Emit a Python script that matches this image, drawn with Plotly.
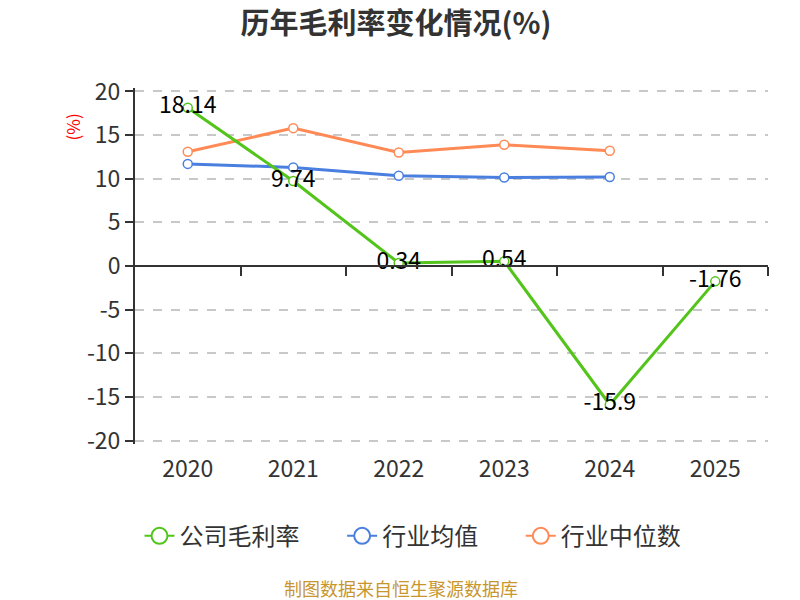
import plotly.graph_objects as go

years = ["2020", "2021", "2022", "2023", "2024", "2025"]
company = [18.14, 9.74, 0.34, 0.54, -15.9, -1.76]
company_labels = ["18.14", "9.74", "0.34", "0.54", "-15.9", "-1.76"]
industry_avg = [11.7, 11.3, 10.35, 10.15, 10.2]
industry_median = [13.1, 15.8, 13.0, 13.9, 13.2]
y_ticks = [-20, -15, -10, -5, 0, 5, 10, 15, 20]
y_ticktext = ["-20", "-15", "-10", "-5", "0", "5", "10", "15", "20"]

GREEN = "#52c41a"
BLUE = "#4a7fe0"
ORANGE = "#ff8a55"
FONT = "Noto Sans CJK SC"

xs = list(range(len(years)))
y_min, y_max = -20.4, 20.4
xr = [-0.5, len(years) - 0.5]

L, R = 127, 40
T = 79.5
B = 163.5
PW = 800 - L - R

fig = go.Figure()

series = [
    ("行业均值", industry_avg, BLUE),
    ("行业中位数", industry_median, ORANGE),
]
for name, vals, col in series:
    fig.add_trace(go.Scatter(
        x=xs[:len(vals)], y=vals, name=name, mode="lines+markers", showlegend=False,
        line=dict(color=col, width=3),
        marker=dict(symbol="circle", size=9, color="white", line=dict(color=col, width=1.5)),
    ))
fig.add_trace(go.Scatter(
    x=xs, y=company, name="公司毛利率", mode="lines+markers+text", showlegend=False,
    text=company_labels, textposition="middle center",
    textfont=dict(size=23, color="#000000", family=FONT),
    line=dict(color=GREEN, width=3),
    marker=dict(symbol="circle", size=9, color="white", line=dict(color=GREEN, width=1.5)),
))

# legend entries
PAD = "\u00a0" * 7
legend_items = [("公司毛利率" + PAD, GREEN), ("行业均值" + PAD, BLUE), ("行业中位数", ORANGE)]
for rank, (name, col) in enumerate(legend_items):
    fig.add_trace(go.Scatter(
        x=[None], y=[None], name=name, mode="lines+markers", legendrank=rank + 1,
        line=dict(color=col, width=2),
        marker=dict(symbol="circle", size=16, color="white", line=dict(color=col, width=2)),
    ))

# invisible trace to anchor the zero-line axis
fig.add_trace(go.Scatter(x=[xs[0]], y=[0], xaxis="x2", yaxis="y", mode="markers",
                         marker=dict(opacity=0), showlegend=False, hoverinfo="skip"))

PH = 600 - T - B


def py(f):
    return (T + PH - f) / PH


def px(f):
    return (f - L) / PW


fig.update_layout(
    width=800, height=600,
    paper_bgcolor="white", plot_bgcolor="white",
    margin=dict(l=L, r=R, t=T, b=B),
    font=dict(family=FONT, color="#333333"),
    title=dict(text="<b>历年毛利率变化情况(%)</b>", x=388 / 800, xanchor="center", y=1 - 16 / 600,
               yanchor="middle", font=dict(size=29, color="#333333", family=FONT)),
    showlegend=True,
    legend=dict(orientation="h", x=px(405), xanchor="center", y=py(529), yanchor="middle",
                font=dict(size=24, color="#333333", family=FONT)),
    xaxis=dict(
        range=xr, tickmode="array", tickvals=xs, ticktext=years,
        showgrid=False, zeroline=False, showline=False,
        ticks="outside", ticklen=4, tickcolor="rgba(0,0,0,0)",
        tickfont=dict(size=23, color="#333333", family=FONT),
    ),
    xaxis2=dict(
        range=xr, overlaying="x", anchor="free", position=0.5, side="bottom",
        showline=True, linecolor="#333333", linewidth=2,
        ticks="outside", ticklen=9, tickwidth=2, tickcolor="#333333",
        tickmode="array", tickvals=[i + 0.5 for i in xs], showticklabels=False,
        showgrid=False, zeroline=False,
    ),
    yaxis=dict(
        range=[y_min, y_max], tickmode="array", tickvals=y_ticks, ticktext=y_ticktext,
        showgrid=True, gridcolor="#c8c8c8", griddash="dash", gridwidth=1.5,
        zeroline=False, showline=True, linecolor="#333333", linewidth=2,
        ticks="outside", ticklen=8, tickwidth=2, tickcolor="#333333",
        tickfont=dict(size=23, color="#333333", family=FONT),
    ),
    annotations=[
        dict(text="(%)", xref="paper", yref="paper", x=px(64), y=py(119), textangle=-90,
             showarrow=False, font=dict(size=17, color="red", family=FONT),
             xanchor="center", yanchor="middle"),
        dict(text="制图数据来自恒生聚源数据库", xref="paper", yref="paper", x=px(393), y=py(581),
             showarrow=False, font=dict(size=18, color="#c8962e", family=FONT),
             xanchor="center", yanchor="middle"),
    ],
)

fig.write_html("out.html")
